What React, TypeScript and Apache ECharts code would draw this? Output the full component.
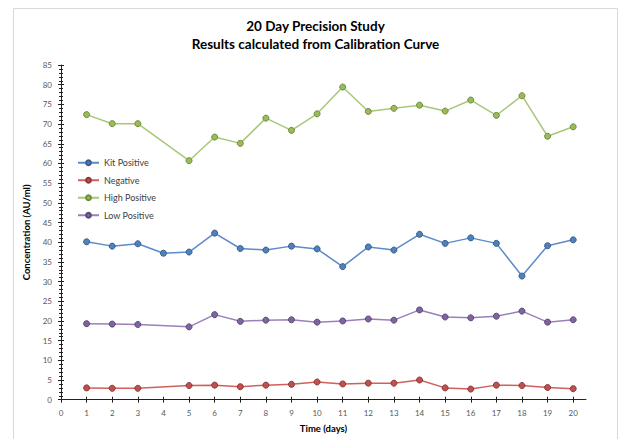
import React, { useEffect, useRef } from "react";
import * as echarts from "echarts";

const titleLines = ["20 Day Precision Study", "Results calculated from Calibration Curve"];
const seriesNames = ["Kit Positive", "Negative", "High Positive", "Low Positive"];
const xTicks = [0, 1, 2, 3, 4, 5, 6, 7, 8, 9, 10, 11, 12, 13, 14, 15, 16, 17, 18, 19, 20];

const kitDays = [1, 2, 3, 4, 5, 6, 7, 8, 9, 10, 11, 12, 13, 14, 15, 16, 17, 18, 19, 20];
const kitPositive = [40.1, 39.0, 39.6, 37.2, 37.5, 42.3, 38.4, 38.0, 39.0, 38.3, 33.8, 38.8, 38.0, 42.0, 39.7, 41.1, 39.7, 31.4, 39.1, 40.6];

const otherDays = [1, 2, 3, 5, 6, 7, 8, 9, 10, 11, 12, 13, 14, 15, 16, 17, 18, 19, 20];
const negative = [3.0, 2.9, 2.9, 3.6, 3.7, 3.3, 3.7, 3.9, 4.5, 4.0, 4.2, 4.2, 5.0, 3.0, 2.7, 3.7, 3.6, 3.1, 2.8];
const highPositive = [72.4, 70.1, 70.1, 60.7, 66.7, 65.1, 71.5, 68.4, 72.6, 79.4, 73.2, 74.0, 74.8, 73.3, 76.1, 72.2, 77.2, 66.9, 69.3];
const lowPositive = [19.3, 19.2, 19.1, 18.5, 21.6, 19.9, 20.2, 20.3, 19.7, 20.0, 20.5, 20.2, 22.8, 21.0, 20.8, 21.2, 22.5, 19.7, 20.3];

const FONT = "Lato, 'Open Sans', sans-serif";

function pairs(xs: number[], ys: number[]) {
  return xs.map((x, i) => [x, ys[i]]);
}

export default function App() {
  const ref = useRef<HTMLDivElement>(null);
  useEffect(() => {
    document.body.style.margin = "0";
    if (!ref.current) return;
    const chart = echarts.init(ref.current, null, { renderer: "svg" });
    const mk = (name: string, data: number[][], line: string, fill: string, border: string) => ({
      name,
      type: "line",
      xAxisIndex: 0,
      yAxisIndex: 0,
      data,
      symbol: "circle",
      symbolSize: 6,
      lineStyle: { color: line, width: 1.5 },
      itemStyle: { color: fill, borderColor: border, borderWidth: 1 },
    });
    const axisLineStyle = { color: "#222", width: 1 };
    chart.setOption({
      animation: false,
      backgroundColor: "#fff",
      graphic: [
        {
          type: "rect",
          shape: { x: 13.5, y: 8.5, width: 604, height: 440 },
          style: { fill: "none", stroke: "#d9d9d9", lineWidth: 1 },
          silent: true,
        },
        {
          type: "text",
          x: 315.5,
          y: 26,
          style: { text: titleLines[0], font: `bold 13.5px ${FONT}`, fill: "#000", textAlign: "center", textVerticalAlign: "middle" },
        },
        {
          type: "text",
          x: 315.5,
          y: 44,
          style: { text: titleLines[1], font: `bold 13.5px ${FONT}`, fill: "#000", textAlign: "center", textVerticalAlign: "middle" },
        },
      ],
      legend: {
        orient: "vertical",
        left: 72,
        top: 152.5,
        itemWidth: 21,
        itemHeight: 6,
        itemGap: 7,
        data: seriesNames,
        textStyle: { fontFamily: FONT, fontSize: 9, color: "#404040", lineHeight: 10.5 },
      },
      grid: { left: 61, top: 65, right: 34, bottom: 39.3, containLabel: false },
      xAxis: [
        {
          type: "value",
          min: 0,
          max: 20.5,
          interval: 1,
          name: "Time (days)",
          nameLocation: "middle",
          nameGap: 24,
          nameTextStyle: { fontFamily: FONT, fontSize: 9.5, fontWeight: "bold", color: "#000" },
          axisLine: { show: true, onZero: false, lineStyle: axisLineStyle },
          axisTick: { show: true, length: 3, customValues: xTicks, lineStyle: axisLineStyle },
          axisLabel: { customValues: xTicks, fontFamily: FONT, fontSize: 8, color: "#595959", margin: 9 },
          splitLine: { show: false },
        },
        {
          type: "value",
          min: 0,
          max: 20.5,
          interval: 1,
          position: "bottom",
          axisLine: { show: false },
          axisTick: { show: true, inside: true, length: 3, customValues: xTicks, lineStyle: axisLineStyle },
          axisLabel: { show: false },
          splitLine: { show: false },
        },
      ],
      yAxis: [
        {
          type: "value",
          min: 0,
          max: 85,
          interval: 5,
          name: "Concentration (AU/ml)",
          nameLocation: "middle",
          nameGap: 21,
          nameTextStyle: { fontFamily: FONT, fontSize: 9.5, fontWeight: "bold", color: "#000" },
          axisLine: { show: true, lineStyle: axisLineStyle },
          axisTick: { show: true, length: 3, lineStyle: axisLineStyle },
          minorTick: { show: true, splitNumber: 5, length: 2, lineStyle: axisLineStyle },
          axisLabel: { fontFamily: FONT, fontSize: 8, color: "#595959", margin: 9 },
          splitLine: { show: false },
        },
        {
          type: "value",
          min: 0,
          max: 85,
          interval: 5,
          position: "left",
          axisLine: { show: false },
          axisTick: { show: true, inside: true, length: 3, lineStyle: axisLineStyle },
          minorTick: { show: true, splitNumber: 5, length: 2, lineStyle: axisLineStyle },
          axisLabel: { show: false },
          splitLine: { show: false },
        },
      ],
      series: [
        mk(seriesNames[0], pairs(kitDays, kitPositive), "#5B8BC8", "#4F81BD", "#385D8A"),
        mk(seriesNames[1], pairs(otherDays, negative), "#D0605C", "#C0504D", "#8C3836"),
        mk(seriesNames[2], pairs(otherDays, highPositive), "#A9C77A", "#9BBB59", "#6E8B3D"),
        mk(seriesNames[3], pairs(otherDays, lowPositive), "#9A80BA", "#8064A2", "#5C4776"),
      ],
    });
    return () => chart.dispose();
  }, []);
  return <div ref={ref} style={{ width: 620, height: 439 }} />;
}
